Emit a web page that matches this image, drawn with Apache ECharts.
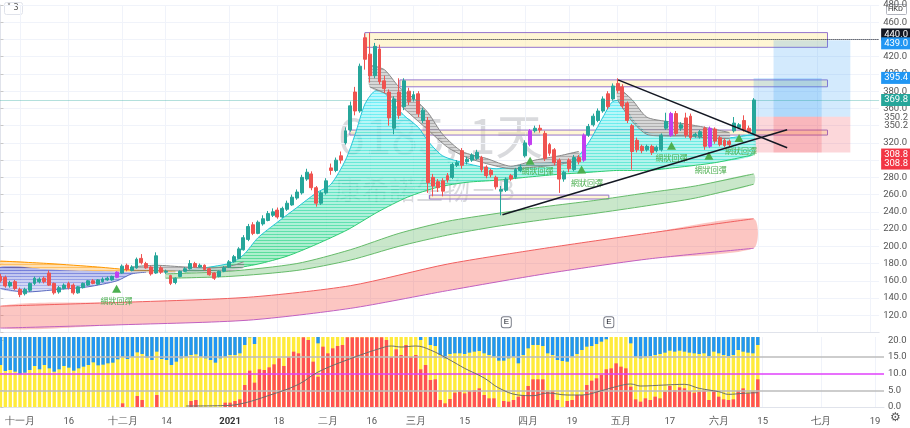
<!DOCTYPE html>
<html><head><meta charset="utf-8">
<script src="https://cdn.jsdelivr.net/npm/echarts@6/dist/echarts.min.js"></script>
<style>html,body{margin:0;padding:0;background:#fff}#c{width:910px;height:428px}</style>
</head><body><div id="c"></div>
<script>
// ---------- DATA ----------
const tickIdx  = [4,14,25,34,47,57,67,76,85,95,108,117,127,137,147,156,168,179];
const tickText = ['十一月','16','十二月','14','2021','18','二月','16','三月','15','四月','19','五月','17','六月','15','七月','19'];
// [open, close, low, high]
const ohlc = [
[165,160,158,168],[164,154,152,166],[154,158,152,160],[159,151,149,161],[150,144,141,152],
[145,150,143,152],[149,157,147,158],[157,163,155,165],[159,162,157,164],[163,159,157,165],
[169,155,154,172],[157,146,144,158],[147,152,145,154],[151,155,150,157],[157,152,150,159],
[155,146,144,157],[146,153,145,154],[152,157,151,158],[155,160,154,161],[160,157,156,162],
[156,161,155,162],[159,162,158,164],[161,163,160,165],[161,165,160,166],[164,170,163,171],
[169,177,168,179],[178,173,171,180],[172,176,171,178],[175,185,174,187],[186,181,179,191],
[180,175,174,182],[176,168,166,177],[169,189,168,193],[175,170,168,177],[170,171,168,173],
[166,157,155,167],[158,163,156,164],[165,171,164,172],[171,174,170,176],[174,180,173,184],
[180,176,175,182],[176,178,175,180],[178,173,172,179],[174,167,166,175],[169,163,161,170],
[165,171,164,172],[171,175,170,177],[176,182,175,184],[182,188,181,190],[186,197,185,199],
[196,210,195,213],[208,223,206,226],[225,215,213,228],[215,228,214,230],[226,232,224,236],
[230,238,229,241],[236,240,234,244],[242,234,232,245],[234,244,233,246],[243,250,241,253],
[248,257,247,260],[256,263,254,266],[262,280,260,283],[278,286,276,290],[284,268,265,287],
[268,250,246,270],[250,262,248,264],[262,276,260,279],[291,288,283,296],[288,300,286,303],
[305,300,296,310],[320,334,318,338],[335,363,333,368],[379,357,352,385],[357,409,355,412],
[442,417,405,447],[423,398,390,448],[398,432,395,436],[429,391,388,434],[392,383,378,398],
[379,349,340,382],[337,371,330,374],[379,352,348,395],[362,392,358,395],[380,368,364,384],
[371,376,368,380],[377,354,350,380],[346,358,343,361],[346,274,262,350],[280,270,258,284],
[275,268,263,278],[276,264,258,279],[282,277,274,285],[280,295,278,297],[294,297,292,300],
[311,294,290,314],[298,301,295,304],[300,306,298,308],[302,309,300,312],[303,289,286,305],
[292,282,279,294],[288,283,280,290],[280,269,266,282],[264,266,236,270],[265,278,263,280],
[282,278,276,284],[280,289,278,291],[288,292,286,295],[305,320,303,323],[318,334,316,336],
[334,337,332,340],[337,335,332,341],[331,302,299,334],[318,308,305,320],[312,297,294,314],
[300,278,262,302],[278,286,275,288],[300,290,286,302],[289,303,287,306],[303,298,295,306],
[300,329,298,331],[329,339,327,342],[341,351,339,354],[346,357,344,360],[357,371,355,374],
[377,362,359,380],[371,386,369,389],[389,381,378,395],[385,363,360,388],[366,346,343,368],
[340,310,289,342],[323,312,309,326],[316,311,308,318],[312,316,310,318],[316,309,306,318],
[311,315,309,317],[312,329,310,331],[337,345,335,355],[329,354,327,356],[354,331,328,357],
[337,341,334,344],[349,329,326,355],[351,326,323,354],[328,330,326,332],[327,333,325,335],
[337,316,312,339],[316,337,314,339],[336,322,319,338],[326,318,316,328],[323,317,315,325],
[322,318,316,324],[334,343,332,350],[338,341,336,343],[346,335,333,352],[337,333,331,340],
[331,369.8,330,372]
];
const purpleIdx = [24,109,120,138,146];

// lower panel: red (bottom) and blue (top) segment heights, panel total
const panelTotal = 21;
const redVals = [
0,0,0,0,0,0,0,0,0,0, 0,0,0,0,0,0,0,0,0,0, 0,0,0,0,0,1.1,0,0,3.3,2.1,
0,0,3.6,0,0,0,0,0,0,1.8, 2.1,0,0,0,0,0,1.3,1.3,1.8,2.3, 6.6,10.9,7.3,11.3,11.1,11.9,12.8,14.6,12.3,15.1,
16.6,16.1,20.9,20.1,13.6,9.1,18.1,16.1,17.6,18.3, 18.6,20.9,20.9,20.9,20.9,20.9,20.9,20.9,20.9,20.1,
15.1,17.3,15.6,18.6,15.1,15.6,11.3,12.6,8.1,8.3, 2.1,1.1,2.4,4.3,4.6,4.1,4.8,5.1,5.6,3.6,
2.6,2.6,0,1.8,1.6,2.1,3.1,3.6,6.3,8.3, 8.3,8.3,4.6,4.9,2.1,0,1.8,2.1,3.6,3.6,
6.6,7.9,8.6,9.6,11.3,11.6,13.1,12.1,11.6,6.1, 2.3,1.6,2.6,2.1,3.1,2.6,4.6,6.3,5.1,5.9,
5.6,4.8,4.3,4.6,4.9,2.1,4.9,3.1,2.3,2.1, 2.3,4.9,5.6,4.1,4.6,8.3
];
const blueVals = [
8.4,10.2,9.9,10.4,11.2,10.7,9.9,8.7,9.7,8.4, 9.4,10.4,9.7,8.7,9.2,10.1,9.4,8.9,8.4,7.6,
8.5,8.3,7.9,7.7,6.7,5.9,6.6,5.9,4.6,5.1, 6.2,6.9,4.4,6.6,6.9,8.4,7.4,6.4,5.9,5.4,
5.2,5.9,6.4,6.9,7.7,6.4,5.9,5.4,5.4,4.9, 2.4,0.1,2.1,0,0,0,0,0,0,0,
0,0,0,0,0,1.9,0,0,0,0, 0,0,0,0,0,0,0,0,0,0,
0,0,0,0,0,0,0.9,0,2.4,2.7, 5.4,6.4,5.1,4.9,4.9,5.1,4.7,4.4,4.2,4.9,
5.4,5.9,7.1,7.1,6.4,5.9,7.9,5.4,3.4,2.4, 2.4,2.7,4.9,5.4,6.9,7.2,7.4,5.9,5.1,3.9,
2.9,2.7,2.1,1.4,0.7,0,0,0,0,1.9, 5.9,6.4,5.9,5.7,5.4,5.1,4.7,4.1,4.4,4.1,
4.4,4.7,4.9,5.1,4.9,5.7,4.4,4.9,5.4,5.7, 5.4,3.9,4.4,4.7,4.9,2.4
];
const oscLine = [[38,0.3],[45,0.4],[49,0.9],[55,3.5],[61,6.8],[65,10.5],[72,14.7],[78,17.7],[80,18.3],[82,18],
[85,18.3],[88,17.1],[92,14.1],[95,11.6],[99,8.7],[102,5.7],[106,3.6],[109,3.4],[112,4.2],[116,3.6],
[119,3.6],[123,4.9],[126,6.1],[129,6.9],[131,6.3],[136,6.6],[140,6.8],[143,5.6],[147,4.6],[149,3.8],[152,4.1],[155,4.3]];

// ribbons / bands  [index, price]
const redBandTop    = [[0,130.6],[25,135],[51,140.9],[72,154.3],[92,179.4],[112,197.7],[133,214.9],[155,232]];
const redBandBottom = [[0,105.1],[25,109],[51,114.3],[72,128],[92,148.6],[112,168],[133,185.1],[155,197.7]];
const greenBandTop    = [[34,168],[47,171],[61,180],[72,196],[82,215],[92,229],[102,238],[112,246],[122,253],[133,262],[143,270],[155,284]];
const greenBandBottom = [[34,163],[47,165],[61,172],[72,184],[82,200],[92,213],[102,223],[112,231],[122,238],[133,247],[143,256],[155,272]];
const orangeTop    = [[0,182.9],[10,180],[20,176],[27,172.6],[36,171]];
const orangeBottom = [[0,176],[10,173],[20,171],[27,170],[36,170]];
const blueFanLow   = [[0,151],[5,147],[12,150],[18,153],[24,160],[27,168],[30,170]];
const fanTop = [[38,172],[47,180],[50,190],[53,210],[57,228],[61,245],[65,262],[68,272],[71,300],[73,330],[75,365],
 [77,380],[79,378],[81,365],[83,352],[86,338],[88,322],[91,305],[96,296],[102,290],[108,295],[114,297],[118,300],
 [121,320],[124,350],[126,368],[128,368],[130,348],[133,332],[138,330],[145,330],[150,326],[155,330]];
const fanBottom = [[38,170],[47,173.7],[53,179.4],[59,188.6],[65,202.3],[71.5,219.4],[77.7,240],[83.8,257.1],[90,268.6],
 [96,274.3],[102,276.6],[108,280],[114.5,283.4],[120.7,285.7],[126.8,288],[133,288],[139,291.4],[147,297],[155,306.3]];
const greyDecTop = [[27,176],[32,178],[38,176],[44,175],[48,178],[50,182]];
const greyDecBottom = [[27,170],[32,171],[38,170],[44,170],[48,172],[50,175]];
const greyFebTop = [[76,410],[79,405],[82,385],[85,372],[88,355],[91,330],[95,310],[100,302],[105,293],[110,300],[115,305],[119,310]];
const greyFebBottom = [[76,385],[80,375],[84,355],[88,335],[92,315],[96,303],[100,296],[105,290],[110,292],[115,295],[119,300]];
const greyMayTop = [[127,385],[130,370],[133,350],[137,345],[141,342],[145,338],[150,332]];
const greyMayBottom = [[127,370],[130,345],[133,330],[137,328],[141,328],[145,326],[150,325]];

// drawings
const triLineA = [[103.3,236.6],[161.9,335.2]];
const triLineB = [[127.1,393.1],[161.9,314.3]];
const rects = [ // [x0,x1,yTop,yBottom]
 [75.0,170.2,448,430.9],[82.2,170.2,393.1,385.1],[71.9,170.2,334.9,329.1],[88.3,125.2,259.4,254.9]];
const posTools = [ // [x0,x1,entry,target,stop]
 [155,169,350.2,395.4,308.8],[159.1,174.9,350.2,439.0,308.8]];
const bounceMarks = [ // triangle [idx,price], text [idx,price]
 [23.9,150.9,23.9,137.1],[109,299.4,110.5,287],[119.6,289.1,120.7,273],[138.1,316.6,138.1,302.9],[145.8,305.1,146.2,289.1],[152,325.7,152.4,310.9]];
const earnings = [[104.1,112],[125.2,112]];
const lastPrice = 369.8;
const priceTags = [ // value, text, background, text colour, vertical nudge
 [440,'440.0','#131722','#ffffff',-5],[439,'439.0','#2196f3','#ffffff',3],[395.4,'395.4','#2196f3','#ffffff',0],
 [369.8,'369.8','#26a69a','#ffffff',0],[350.2,'350.2','#ffffff','#555555',1],[350.2,'350.2','#ffffff','#555555',9],
 [308.8,'308.8','#f23645','#ffffff',2],[308.8,'308.8','#f23645','#ffffff',11]];

// ---------- CHART ----------
const chart = echarts.init(document.getElementById('c'), null, {renderer:'canvas'});
const UP='#26a69a', DN='#ef5350', PU='#c23ef0';
const candleData = ohlc.map((d,i)=>{
  const item = {value:[i,d[0],d[1],d[2],d[3]]};
  if (purpleIdx.includes(i)) item.itemStyle = {color:PU,color0:PU,borderColor:PU,borderColor0:PU};
  return item;
});
const stripe = document.createElement('canvas'); stripe.width=4; stripe.height=3;
(function(){const c=stripe.getContext('2d'); c.fillStyle='rgba(255,255,255,0.5)'; c.fillRect(0,1,4,2);})();
function poly(upper, lower, fill, stroke1, stroke2, z, striped){
  return {type:'custom', xAxisIndex:0, yAxisIndex:0, z:z, silent:true, data:[0], clip:true,
    renderItem:(p,api)=>{
      const u = upper.map(q=>api.coord(q)), l = lower.map(q=>api.coord(q));
      const pts = u.concat(l.slice().reverse());
      const ch = [{type:'polygon', shape:{points:pts, smooth:0.25}, style:{fill:fill}}];
      if (striped) ch.push({type:'polygon', shape:{points:pts, smooth:0.25}, style:{fill:{image:stripe,repeat:'repeat'}}});
      if (stroke1) ch.push({type:'polyline', shape:{points:u, smooth:0.25}, style:{stroke:stroke1, lineWidth:1, fill:null}});
      if (stroke2) ch.push({type:'polyline', shape:{points:l, smooth:0.25}, style:{stroke:stroke2, lineWidth:1, fill:null}});
      return {type:'group', children:ch};
    }};
}
const grad = (c1,c2)=>new echarts.graphic.LinearGradient(0,0,0,1,[{offset:0,color:c1},{offset:1,color:c2}]);

const markAreaData = [];
rects.forEach(r=>markAreaData.push([{xAxis:r[0],yAxis:r[2],itemStyle:{color:'rgba(255,235,160,0.45)',borderColor:'#9575cd',borderWidth:1}},{xAxis:r[1],yAxis:r[3]}]));
posTools.forEach(t=>{
  markAreaData.push([{xAxis:t[0],yAxis:t[2],itemStyle:{color:'rgba(33,150,243,0.2)'}},{xAxis:t[1],yAxis:t[3]}]);
  markAreaData.push([{xAxis:t[0],yAxis:t[4],itemStyle:{color:'rgba(242,54,69,0.2)'}},{xAxis:t[1],yAxis:t[2]}]);
});
const bounceData = [];
bounceMarks.forEach(b=>{
  bounceData.push({coord:[b[0],b[1]],symbol:'triangle',symbolSize:[9,8],itemStyle:{color:'#4caf50'},label:{show:false}});
  bounceData.push({coord:[b[2],b[3]],symbol:'rect',symbolSize:1,itemStyle:{color:'rgba(0,0,0,0)'},
    label:{show:true,position:'inside',formatter:'網狀回彈',color:'#4caf50',fontSize:8,fontFamily:'Noto Sans CJK TC'}});
});
earnings.forEach(e=>bounceData.push({coord:e,symbol:'roundRect',symbolSize:[10,11],
  itemStyle:{color:'#fff',borderColor:'#787b86',borderWidth:1},
  label:{show:true,position:'inside',formatter:'E',color:'#131722',fontSize:8}}));

const tagData = priceTags.map(t=>({yAxis:t[0], lineStyle:{color:'rgba(0,0,0,0)',width:0},
  label:{show:true, opacity:1, position:'end', distance:2, formatter:t[1], backgroundColor:t[2],
    color:t[3], padding:[1,3,1,3], fontSize:9.5, fontFamily:'Roboto', offset:[0,t[4]]}}));

const option = {
  animation:false,
  backgroundColor:'#ffffff',
  grid:[{left:0,right:26,top:0,height:332.5},{left:0,right:26,top:337,height:70}],
  xAxis:[
    {type:'value',gridIndex:0,min:-0.0933,max:180.83,axisLine:{show:true,lineStyle:{color:'#e0e3eb'}},
     axisTick:{show:false,customValues:tickIdx},axisLabel:{show:false,customValues:tickIdx},
     splitLine:{show:true,lineStyle:{color:'#f0f3fa'}}},
    {type:'value',gridIndex:1,min:-0.0933,max:180.83,offset:6,axisLine:{show:true,lineStyle:{color:'#e0e3eb'}},
     axisTick:{show:false,customValues:tickIdx},
     axisLabel:{show:true,customValues:tickIdx,margin:4,fontSize:9.5,color:'#555',fontFamily:'Roboto',
       formatter:v=>{const k=tickIdx.indexOf(Math.round(v));return k<0?'':(tickText[k]==='2021'?'{b|2021}':tickText[k]);},
       rich:{b:{fontWeight:'bold',fontSize:9.5,color:'#333',fontFamily:'Roboto'}}},
     splitLine:{show:true,lineStyle:{color:'#f0f3fa'}}}
  ],
  yAxis:[
    {type:'value',gridIndex:0,position:'right',min:100,max:480,interval:20,
     axisLine:{show:true,lineStyle:{color:'#e0e3eb'}},axisTick:{show:true,length:3,lineStyle:{color:'#c8c8c8'}},
     axisLabel:{margin:4,fontSize:9.5,color:'#555',fontFamily:'Roboto',
       formatter:v=>(v===100||v===300||v===340)?'':v.toFixed(1)},
     splitLine:{show:true,lineStyle:{color:'#f0f3fa'}}},
    {type:'value',gridIndex:1,position:'right',min:0,max:panelTotal,interval:5,
     axisLine:{show:true,lineStyle:{color:'#e0e3eb'}},axisTick:{show:true,length:3,lineStyle:{color:'#c8c8c8'}},
     axisLabel:{margin:4,fontSize:9.5,color:'#555',fontFamily:'Roboto',formatter:v=>v>20?'':v.toFixed(1)},
     splitLine:{show:false}},
    {type:'value',gridIndex:1,position:'right',min:0,max:panelTotal,inverse:true,show:false}
  ],
  graphic:[
    {type:'text',left:338,top:112,z:0,style:{text:'6185, 1天',fontSize:48,fill:'rgba(120,123,134,0.28)',fontFamily:'Noto Sans CJK TC'}},
    {type:'text',left:335,top:176,z:0,style:{text:'康希諾生物－B',fontSize:27,fill:'rgba(120,123,134,0.28)',fontFamily:'Noto Sans CJK TC'}},
    {type:'rect',left:4,top:2,shape:{width:18,height:12,r:2},style:{fill:'#fff',stroke:'#e0e3eb'}},
    {type:'text',left:7,top:4,style:{text:'˅ 3',fontSize:8,fill:'#555',fontFamily:'DejaVu Sans'}},
    {type:'rect',left:886,top:4,shape:{width:20,height:10,r:1},style:{fill:'#fff',stroke:'#b2b5be'}},
    {type:'text',left:888,top:5,style:{text:'HKD',fontSize:7.5,fill:'#333',fontFamily:'Roboto'}},
    {type:'text',left:890,top:412,style:{text:'⚙',fontSize:12,fill:'#555',fontFamily:'DejaVu Sans'}}
  ],
  series:[
    poly(redBandTop, redBandBottom, 'rgba(244,67,54,0.3)', '#f06060', '#c060c0', 1, false),
    poly(greenBandTop, greenBandBottom, 'rgba(76,175,80,0.3)', '#66bb6a', '#66bb6a', 1, false),
    poly(orangeTop, orangeBottom, 'rgba(255,152,0,0.6)', '#ff9800', null, 1, true),
    poly(orangeBottom, blueFanLow, grad('rgba(48,63,200,0.75)','rgba(90,110,220,0.4)'), null, '#5c6bc0', 1, true),
    poly(fanTop, fanBottom, grad('rgba(0,229,255,0.55)','rgba(0,200,83,0.65)'), '#26c6da', '#2ecc71', 1, true),
    poly(greyDecTop, greyDecBottom, 'rgba(110,110,110,0.55)', '#8a8a8a', null, 1, true),
    poly(greyFebTop, greyFebBottom, 'rgba(110,110,110,0.55)', '#8a8a8a', '#8a8a8a', 1, true),
    poly(greyMayTop, greyMayBottom, 'rgba(110,110,110,0.55)', '#8a8a8a', '#8a8a8a', 1, true),
    {type:'candlestick',xAxisIndex:0,yAxisIndex:0,z:3,data:candleData,encode:{x:0,y:[1,2,3,4]},barWidth:3.4,
     itemStyle:{color:UP,color0:DN,borderColor:UP,borderColor0:DN,borderWidth:1}},
    {type:'line',xAxisIndex:0,yAxisIndex:0,z:5,data:triLineA,symbol:'none',lineStyle:{color:'#131722',width:1.5},
     markArea:{silent:true,data:markAreaData},
     markPoint:{silent:true,data:bounceData},
     markLine:{silent:true,symbol:'none',data:[
       {yAxis:lastPrice,lineStyle:{color:'rgba(38,166,154,0.35)',width:1,type:'solid'},label:{show:false}},
       [{coord:[77,440],lineStyle:{color:'#131722',type:'dotted',width:1}},{coord:[180.8,440]}]
     ]}},
    {type:'line',xAxisIndex:0,yAxisIndex:0,z:8,data:triLineB,symbol:'none',clip:false,lineStyle:{color:'#131722',width:1.5},
     markLine:{silent:true,symbol:'none',data:tagData}},
    // lower panel
    {type:'bar',xAxisIndex:1,yAxisIndex:1,barWidth:3.4,barGap:'-100%',z:2,
     data:redVals.map((v,i)=>[i,panelTotal]),itemStyle:{color:'#ffeb3b'}},
    {type:'bar',xAxisIndex:1,yAxisIndex:1,barWidth:3.4,barGap:'-100%',z:3,
     data:redVals.map((v,i)=>[i,v]),itemStyle:{color:'#ff5252'}},
    {type:'bar',xAxisIndex:1,yAxisIndex:2,barWidth:3.4,barGap:'-100%',z:3,
     data:blueVals.map((v,i)=>[i,v]),itemStyle:{color:'#2196f3'}},
    {type:'line',xAxisIndex:1,yAxisIndex:1,z:6,data:oscLine,smooth:0.4,symbol:'none',lineStyle:{color:'#6d6d6d',width:1},
     markLine:{silent:true,symbol:'none',label:{show:false},data:[
       {yAxis:15,lineStyle:{color:'#bdbdbd',width:1.5,type:'solid'}},
       {yAxis:10,lineStyle:{color:'#e040fb',width:1.5,type:'solid'}},
       {yAxis:5,lineStyle:{color:'#bdbdbd',width:1.5,type:'solid'}}]}}
  ]
};
chart.setOption(option);
</script></body></html>
